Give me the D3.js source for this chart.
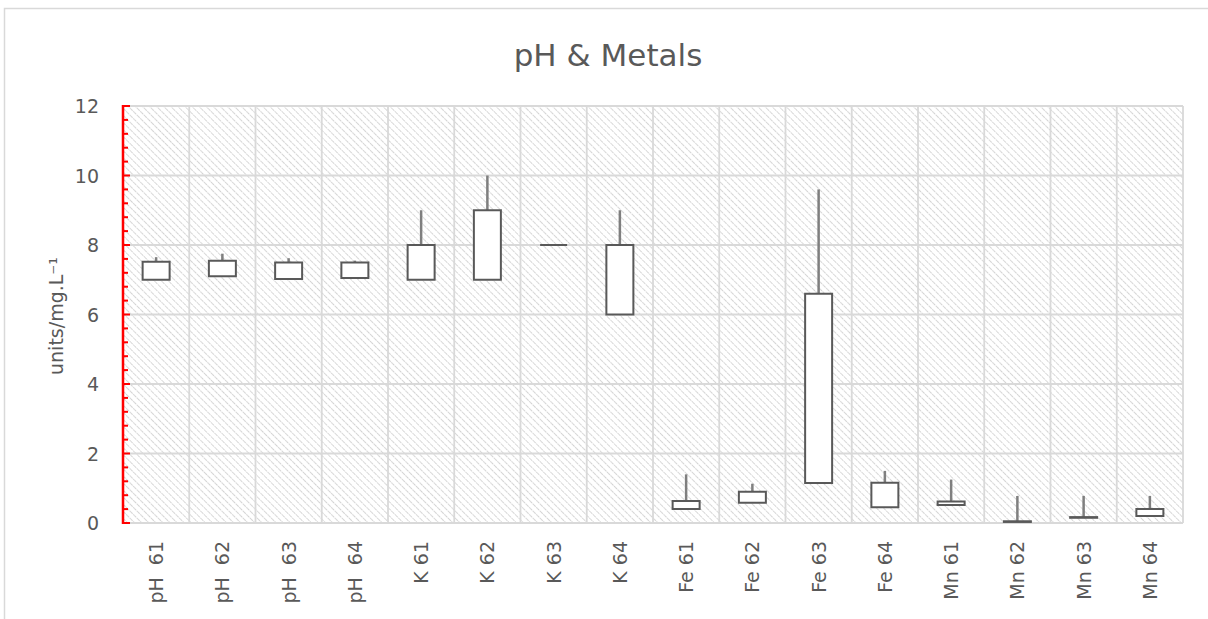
<!DOCTYPE html>
<html>
<head>
<meta charset="utf-8">
<script src="https://cdn.jsdelivr.net/npm/d3@7"></script>
<style>
  body { margin: 0; background: #fff; }
  text { font-family: "DejaVu Sans", "Noto Sans", sans-serif; fill: #595959; }
</style>
</head>
<body>
<svg id="chart"></svg>
<script>
// data
var categories = ["pH  61", "pH  62", "pH  63", "pH  64", "K 61", "K 62", "K 63", "K 64",
                  "Fe 61", "Fe 62", "Fe 63", "Fe 64", "Mn 61", "Mn 62", "Mn 63", "Mn 64"];
var boxLow    = [7.0, 7.1, 7.02, 7.05, 7.0, 7.0, 8.0, 6.0, 0.4, 0.58, 1.15, 0.45, 0.52, 0.03, 0.15, 0.2];
var boxHigh   = [7.52, 7.55, 7.5, 7.5, 8.0, 9.0, 8.0, 8.0, 0.63, 0.9, 6.6, 1.16, 0.62, 0.05, 0.17, 0.4];
var whiskerHi = [7.65, 7.75, 7.62, 7.55, 9.0, 10.0, 8.0, 9.0, 1.4, 1.13, 9.6, 1.5, 1.25, 0.78, 0.78, 0.78];
var yTicks = [0, 2, 4, 6, 8, 10, 12];

var width = 1208, height = 619;
var margin = {left: 123, right: 25, top: 106, bottom: 96};

var dataList = categories.map(function(c, i) {
  return {cat: c, low: boxLow[i], high: boxHigh[i], hi: whiskerHi[i]};
});

var svg = d3.select("#chart").attr("width", width).attr("height", height);

// chart border
svg.append("rect")
  .attr("x", 4.5).attr("y", 8.5)
  .attr("width", width + 10).attr("height", height + 10)
  .attr("fill", "#fff").attr("stroke", "#d9d9d9").attr("stroke-width", 1.5);

// hatch pattern for plot area
var pat = svg.append("defs").append("pattern")
  .attr("id", "hatch")
  .attr("patternUnits", "userSpaceOnUse")
  .attr("width", 5).attr("height", 5)
  .attr("patternTransform", "rotate(-45)");
pat.append("rect").attr("width", 5).attr("height", 5).attr("fill", "#fff");
pat.append("line")
  .attr("x1", 0).attr("y1", 0).attr("x2", 0).attr("y2", 5)
  .attr("stroke", "#d4d4d4").attr("stroke-width", 2)
  .attr("stroke-dasharray", "2,0.8");

var xScale = d3.scaleBand()
  .domain(categories)
  .range([margin.left, width - margin.right]);

var yScale = d3.scaleLinear()
  .domain([0, 12])
  .range([height - margin.bottom, margin.top]);

svg.append("rect")
  .attr("x", margin.left).attr("y", margin.top)
  .attr("width", width - margin.left - margin.right)
  .attr("height", height - margin.top - margin.bottom)
  .attr("fill", "url(#hatch)");

// grid lines
svg.append("g")
  .selectAll("line")
  .data(yTicks)
  .enter().append("line")
  .attr("x1", margin.left).attr("x2", width - margin.right)
  .attr("y1", function(d) { return yScale(d); })
  .attr("y2", function(d) { return yScale(d); })
  .attr("stroke", "#d9d9d9").attr("stroke-width", 1.8);

var xEdges = categories.map(function(c) { return xScale(c); });
xEdges.push(width - margin.right);
svg.append("g")
  .selectAll("line")
  .data(xEdges)
  .enter().append("line")
  .attr("x1", function(d) { return d; }).attr("x2", function(d) { return d; })
  .attr("y1", margin.top).attr("y2", height - margin.bottom)
  .attr("stroke", "#d9d9d9").attr("stroke-width", 1.8);

// y axis (red, ticks inside)
var minorTicks = d3.range(0, 12.001, 0.4);
var yAxis = svg.append("g")
  .attr("class", "yAxis")
  .attr("transform", "translate(" + margin.left + ",0)");
yAxis.append("line")
  .attr("x1", 0).attr("x2", 0)
  .attr("y1", yScale(12) - 1).attr("y2", yScale(0) + 1)
  .attr("stroke", "red").attr("stroke-width", 2.5);
yAxis.selectAll("line.tick")
  .data(minorTicks)
  .enter().append("line")
  .attr("class", "tick")
  .attr("x1", 0)
  .attr("x2", function(d) { return Math.abs(d / 2 - Math.round(d / 2)) < 0.01 ? 7 : 5; })
  .attr("y1", function(d) { return yScale(d); })
  .attr("y2", function(d) { return yScale(d); })
  .attr("stroke", "red").attr("stroke-width", 2);

svg.append("g")
  .selectAll("text")
  .data(yTicks)
  .enter().append("text")
  .attr("x", 99)
  .attr("y", function(d) { return yScale(d) + 7; })
  .attr("text-anchor", "end")
  .style("font-size", "19px")
  .text(function(d) { return d; });

// x labels
svg.append("g")
  .selectAll("text")
  .data(categories)
  .enter().append("text")
  .attr("transform", function(d) {
    return "translate(" + (xScale(d) + xScale.bandwidth() / 2 + 7) + "," + 541 + ") rotate(-90)";
  })
  .attr("text-anchor", "end")
  .style("font-size", "19px")
  .style("white-space", "pre")
  .text(function(d) { return d; });

// title and axis title
svg.append("text")
  .attr("x", 608).attr("y", 66)
  .attr("text-anchor", "middle")
  .style("font-size", "31px")
  .text("pH & Metals");

svg.append("text")
  .attr("transform", "translate(63,316) rotate(-90)")
  .attr("text-anchor", "middle")
  .style("font-size", "19px")
  .text("units/mg.L⁻¹");

// whiskers
var bw = 27;
svg.append("g")
  .selectAll("line")
  .data(dataList)
  .enter().append("line")
  .attr("x1", function(d) { return xScale(d.cat) + xScale.bandwidth() / 2; })
  .attr("x2", function(d) { return xScale(d.cat) + xScale.bandwidth() / 2; })
  .attr("y1", function(d) { return yScale(d.high); })
  .attr("y2", function(d) { return yScale(d.hi); })
  .attr("stroke", "#7f7f7f").attr("stroke-width", 2.5);

// boxes (paths so that flat boxes still show as a line)
svg.append("g")
  .selectAll("path")
  .data(dataList)
  .enter().append("path")
  .attr("d", function(d) {
    var x0 = xScale(d.cat) + xScale.bandwidth() / 2 - bw / 2;
    var y0 = yScale(d.high), y1 = yScale(d.low);
    return "M" + x0 + "," + y0 + "H" + (x0 + bw) + "V" + y1 + "H" + x0 + "Z";
  })
  .attr("fill", "#fff")
  .attr("stroke", "#595959").attr("stroke-width", 2);
</script>
</body>
</html>
